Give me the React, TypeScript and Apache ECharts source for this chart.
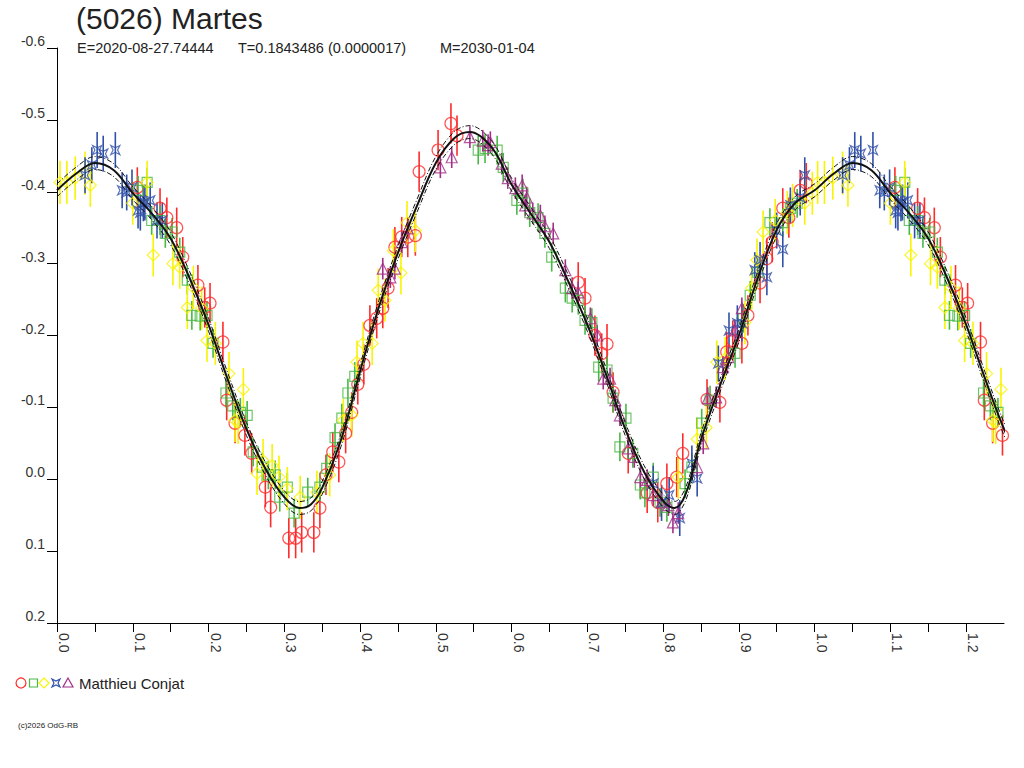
import React, { useEffect, useRef } from "react";
import * as echarts from "echarts";

const FONT = "'Liberation Sans', Arial, sans-serif";

const titleText = "(5026) Martes";
const subE = "E=2020-08-27.74444";
const subT = "T=0.1843486 (0.0000017)";
const subM = "M=2030-01-04";
const observer = "Matthieu Conjat";
const copyright = "(c)2026 OdG-RB";

const yTicks = [-0.6, -0.5, -0.4, -0.3, -0.2, -0.1, 0.0, 0.1, 0.2];
const xTickStep = 0.05;
const xMax = 1.25;

// fitted curve (phase, relative magnitude)
const fitPhase = [0, 0.025, 0.05, 0.075, 0.1, 0.125, 0.15, 0.175, 0.2, 0.225, 0.25, 0.275, 0.3, 0.32, 0.335, 0.35, 0.375, 0.4, 0.425, 0.45, 0.475, 0.5, 0.525, 0.545, 0.575, 0.6, 0.625, 0.65, 0.675, 0.7, 0.725, 0.75, 0.775, 0.8, 0.815, 0.83, 0.85, 0.875, 0.9, 0.925, 0.95, 0.975, 1.0];
const fitMag = [-0.402, -0.425, -0.44, -0.43, -0.398, -0.37, -0.335, -0.28, -0.215, -0.14, -0.07, -0.015, 0.025, 0.04, 0.035, 0.012, -0.055, -0.15, -0.24, -0.315, -0.38, -0.44, -0.475, -0.483, -0.46, -0.41, -0.37, -0.33, -0.275, -0.215, -0.145, -0.07, -0.01, 0.03, 0.04, 0.02, -0.055, -0.13, -0.2, -0.28, -0.347, -0.385, -0.402];
const fitBand = 0.009;

// observations [phase, mag]
const redPts = [
  [0.106, -0.406], [0.136, -0.377], [0.145, -0.364], [0.158, -0.35], [0.166, -0.309], [0.186, -0.27], [0.195, -0.239], [0.202, -0.245], [0.219, -0.191],
  [0.224, -0.11], [0.235, -0.078], [0.248, -0.061], [0.257, -0.036], [0.275, 0.011], [0.282, 0.039], [0.306, 0.082], [0.315, 0.082], [0.323, 0.074],
  [0.339, 0.074], [0.347, 0.04], [0.355, -0.006], [0.364, -0.038], [0.372, -0.024], [0.381, -0.064], [0.389, -0.093], [0.397, -0.132], [0.405, -0.16],
  [0.413, -0.214], [0.422, -0.224], [0.43, -0.238], [0.437, -0.266], [0.446, -0.323], [0.455, -0.337], [0.463, -0.337], [0.473, -0.339], [0.478, -0.428],
  [0.503, -0.458], [0.52, -0.495], [0.528, -0.478], [0.688, -0.274], [0.697, -0.252], [0.71, -0.2], [0.719, -0.175], [0.726, -0.188], [0.734, -0.121],
  [0.754, -0.036], [0.779, 0.019], [0.793, 0.032], [0.805, 0.006], [0.818, -0.003], [0.826, -0.036], [0.858, -0.111], [0.875, -0.107], [0.884, -0.177],
  [0.892, -0.193], [0.904, -0.189], [0.912, -0.228], [0.928, -0.273], [0.937, -0.307], [0.944, -0.33], [0.958, -0.377], [0.966, -0.364], [0.981, -0.402],
  [0.989, -0.412],
];
const greenPts = [
  [0.107, -0.402], [0.119, -0.413], [0.125, -0.36], [0.136, -0.36], [0.143, -0.342], [0.152, -0.344], [0.162, -0.316], [0.172, -0.277], [0.178, -0.228],
  [0.189, -0.227], [0.198, -0.228], [0.206, -0.189], [0.223, -0.12], [0.232, -0.102], [0.242, -0.093], [0.251, -0.089], [0.259, -0.038], [0.271, -0.017],
  [0.279, -0.006], [0.288, -0.006], [0.294, 0.025], [0.304, 0.011], [0.313, 0.047], [0.331, 0.018], [0.347, 0.011], [0.356, -0.015], [0.367, -0.058],
  [0.376, -0.085], [0.384, -0.12], [0.393, -0.143], [0.556, -0.458], [0.565, -0.46], [0.581, -0.458], [0.589, -0.434], [0.607, -0.388], [0.615, -0.398],
  [0.624, -0.371], [0.635, -0.364], [0.644, -0.342], [0.653, -0.309], [0.671, -0.266], [0.68, -0.252], [0.688, -0.249], [0.697, -0.221], [0.706, -0.218],
  [0.715, -0.156], [0.726, -0.152], [0.734, -0.113], [0.743, -0.045], [0.751, -0.085], [0.76, -0.036], [0.77, 0.008], [0.776, 0.019], [0.787, -0.003],
  [0.796, 0.032], [0.805, 0.039], [0.829, 0.006], [0.838, -0.017], [0.851, -0.078], [0.862, -0.11], [0.895, -0.175], [0.906, -0.224], [0.915, -0.256],
  [0.925, -0.288], [0.941, -0.357], [0.958, -0.357], [0.968, -0.377], [0.977, -0.384],
];
const yellowPts = [
  [0.004, -0.413], [0.013, -0.413], [0.024, -0.419], [0.037, -0.426], [0.044, -0.409], [0.1, -0.384], [0.119, -0.413], [0.127, -0.312], [0.153, -0.3],
  [0.162, -0.295], [0.172, -0.239], [0.18, -0.267], [0.191, -0.238], [0.198, -0.193], [0.209, -0.189], [0.227, -0.147], [0.235, -0.082], [0.239, -0.079],
  [0.246, -0.125], [0.264, -0.008], [0.272, -0.026], [0.284, -0.019], [0.293, -0.003], [0.304, 0.013], [0.321, 0.025], [0.343, 0.018], [0.36, -0.006],
  [0.378, -0.082], [0.389, -0.089], [0.396, -0.163], [0.404, -0.189], [0.416, -0.189], [0.424, -0.263], [0.433, -0.249], [0.444, -0.318], [0.454, -0.287],
  [0.462, -0.357], [0.473, -0.346], [0.82, -0.003], [0.845, -0.056], [0.857, -0.072], [0.871, -0.163], [0.882, -0.168], [0.908, -0.218], [0.917, -0.266],
  [0.924, -0.305], [0.932, -0.344], [0.948, -0.36], [0.964, -0.371], [0.971, -0.381], [0.987, -0.384], [0.997, -0.398],
];
const bluePts = [
  [0.037, -0.423], [0.046, -0.437], [0.053, -0.458], [0.061, -0.453], [0.077, -0.458], [0.086, -0.402], [0.092, -0.399], [0.099, -0.406], [0.107, -0.374],
  [0.11, -0.371], [0.114, -0.384], [0.116, -0.385], [0.123, -0.388], [0.132, -0.36], [0.139, -0.36], [0.787, 0.006], [0.798, 0.033], [0.808, 0.022],
  [0.822, 0.054], [0.838, -0.022], [0.845, -0.001], [0.873, -0.161], [0.887, -0.207], [0.898, -0.217], [0.904, -0.217], [0.921, -0.291], [0.928, -0.305],
  [0.937, -0.281], [0.95, -0.346], [0.958, -0.32], [0.968, -0.381], [0.981, -0.392], [0.987, -0.423],
];
const purplePts = [
  [0.43, -0.293], [0.44, -0.281], [0.446, -0.293], [0.455, -0.33], [0.463, -0.349], [0.506, -0.434], [0.521, -0.448], [0.545, -0.476], [0.562, -0.471],
  [0.569, -0.465], [0.572, -0.469], [0.587, -0.439], [0.595, -0.419], [0.605, -0.405], [0.614, -0.409], [0.618, -0.381], [0.62, -0.392], [0.628, -0.37],
  [0.638, -0.367], [0.644, -0.352], [0.655, -0.342], [0.671, -0.291], [0.68, -0.266], [0.688, -0.26], [0.704, -0.224], [0.713, -0.2], [0.721, -0.14],
  [0.73, -0.14], [0.737, -0.11], [0.743, -0.089], [0.754, -0.043], [0.762, -0.031], [0.77, -0.003], [0.779, 0.001], [0.787, 0.022], [0.798, 0.032],
  [0.807, 0.036], [0.813, 0.06], [0.82, 0.047], [0.845, -0.017], [0.853, -0.05], [0.859, -0.113], [0.87, -0.114], [0.879, -0.156], [0.886, -0.17],
  [0.895, -0.207], [0.904, -0.238],
];
// typical 1-sigma error per session
const redErr = 0.028;
const greenErr = 0.02;
const yellowErr = 0.03;
const blueErr = 0.025;
const purpleErr = 0.015;

const STAR_PATH = "path://M0,0 L5,2.5 L10,0 L7.5,5 L10,10 L5,7.5 L0,10 L2.5,5 Z";

const sessions = [
  { name: "s1", pts: redPts, err: redErr, color: "#ff2a2a", symbol: "circle", size: 12 },
  { name: "s2", pts: greenPts, err: greenErr, color: "#48b844", symbol: "rect", size: 10 },
  { name: "s3", pts: yellowPts, err: yellowErr, color: "#f8f400", symbol: "diamond", size: 12 },
  { name: "s4", pts: bluePts, err: blueErr, color: "#3050a8", symbol: STAR_PATH, size: 9 },
  { name: "s5", pts: purplePts, err: purpleErr, color: "#a22e88", symbol: "triangle", size: 11 },
];

function wrapPts(pts: number[][]): number[][] {
  const extra = pts.filter((p) => p[0] <= 0.25 + 1e-9).map((p) => [p[0] + 1, p[1]]);
  return pts.concat(extra);
}

function fitSeries(offset: number): number[][] {
  const base = fitPhase.map((p, i) => [p, fitMag[i] + offset]);
  const extra = fitPhase
    .map((p, i) => [p + 1, fitMag[i] + offset])
    .filter((p) => p[0] > 1 && p[0] <= 1.3);
  return base.concat(extra);
}

export default function App() {
  const ref = useRef<HTMLDivElement>(null);
  useEffect(() => {
    document.body.style.margin = "0";
    if (!ref.current) return;
    const chart = echarts.init(ref.current, undefined, { renderer: "svg" });

    const series: any[] = [];
    sessions.forEach((s) => {
      const data = wrapPts(s.pts);
      series.push({
        type: "custom",
        name: s.name + "-err",
        z: 2,
        clip: true,
        encode: { x: 0, y: 1 },
        data: data.map((p) => [p[0], p[1], s.err]),
        renderItem: (params: any, api: any) => {
          const x = api.value(0);
          const y = api.value(1);
          const e = api.value(2);
          const a = api.coord([x, y - e]);
          const b = api.coord([x, y + e]);
          return {
            type: "line",
            shape: { x1: a[0], y1: a[1], x2: b[0], y2: b[1] },
            style: { stroke: s.color, lineWidth: 1.6 },
          };
        },
      });
      series.push({
        type: "scatter",
        name: s.name,
        z: 3,
        data,
        symbol: s.symbol,
        symbolSize: s.size,
        itemStyle: { color: "rgba(0,0,0,0)", borderColor: s.color, borderWidth: 1.2 },
        emphasis: { disabled: true },
      });
    });

    series.push({
      type: "line",
      name: "fit",
      z: 4,
      data: fitSeries(0),
      smooth: 0.35,
      symbol: "none",
      lineStyle: { color: "#111", width: 2 },
    });
    [-fitBand, fitBand].forEach((off, i) => {
      series.push({
        type: "line",
        name: "band" + i,
        z: 4,
        data: fitSeries(off),
        smooth: 0.35,
        symbol: "none",
        lineStyle: { color: "#111", width: 1, type: [5, 2, 1, 2] },
      });
    });

    const legendY = 683;
    const sc = (c: string) => ({ stroke: c, fill: "none", lineWidth: 1.2 });

    chart.setOption({
      animation: false,
      backgroundColor: "#fff",
      grid: { left: 57, right: 20, top: 48, bottom: 145, containLabel: false },
      xAxis: {
        type: "value",
        min: 0,
        max: xMax,
        interval: xTickStep,
        axisLine: { onZero: false, lineStyle: { color: "#000", width: 1 } },
        axisTick: { length: 9, lineStyle: { color: "#000", width: 1 } },
        splitLine: { show: false },
        axisLabel: {
          rotate: -90,
          margin: 10,
          verticalAlign: "bottom",
          color: "#333",
          fontFamily: FONT,
          fontSize: 14,
          showMaxLabel: false,
          formatter: (v: number) => {
            const k = Math.round(v * 100);
            return k % 10 === 0 && k < 125 ? (k / 100).toFixed(1) : "";
          },
        },
      },
      yAxis: {
        type: "value",
        inverse: true,
        min: yTicks[0],
        max: yTicks[yTicks.length - 1],
        interval: 0.1,
        axisLine: { show: true, lineStyle: { color: "#000", width: 1 } },
        axisTick: { show: true, length: 10, lineStyle: { color: "#000", width: 1 } },
        splitLine: { show: false },
        axisLabel: {
          margin: 12,
          verticalAlign: "bottom",
          color: "#333",
          fontFamily: FONT,
          fontSize: 14,
          formatter: (v: number) => (Math.abs(v) < 1e-9 ? 0 : v).toFixed(1),
        },
      },
      graphic: [
        { type: "text", left: 76, top: 3, style: { text: titleText, font: `30px ${FONT}`, fill: "#222" } },
        { type: "text", x: 77, y: 48, style: { text: subE, font: `14.5px ${FONT}`, fill: "#222", verticalAlign: "middle" } },
        { type: "text", x: 238, y: 48, style: { text: subT, font: `14.5px ${FONT}`, fill: "#222", verticalAlign: "middle" } },
        { type: "text", x: 440, y: 48, style: { text: subM, font: `14.5px ${FONT}`, fill: "#222", verticalAlign: "middle" } },
        { type: "circle", shape: { cx: 21, cy: legendY, r: 5 }, style: sc(sessions[0].color) },
        { type: "rect", shape: { x: 29.5, y: legendY - 4, width: 8, height: 8 }, style: sc(sessions[1].color) },
        {
          type: "polygon",
          shape: { points: [[44, legendY - 5], [49, legendY], [44, legendY + 5], [39, legendY]] },
          style: sc(sessions[2].color),
        },
        {
          type: "polygon",
          shape: {
            points: [[52, legendY - 4], [56, legendY - 2], [60, legendY - 4], [58, legendY], [60, legendY + 4], [56, legendY + 2], [52, legendY + 4], [54, legendY]],
          },
          style: sc(sessions[3].color),
        },
        {
          type: "polygon",
          shape: { points: [[68, legendY - 5], [73, legendY + 4], [63, legendY + 4]] },
          style: sc(sessions[4].color),
        },
        { type: "text", x: 79, y: legendY, style: { text: observer, font: `15px ${FONT}`, fill: "#222", verticalAlign: "middle" } },
        { type: "text", x: 18, y: 725, style: { text: copyright, font: `8px ${FONT}`, fill: "#222", verticalAlign: "middle" } },
      ],
      series,
    });
    return () => chart.dispose();
  }, []);
  return <div ref={ref} style={{ width: 1024, height: 768 }} />;
}
